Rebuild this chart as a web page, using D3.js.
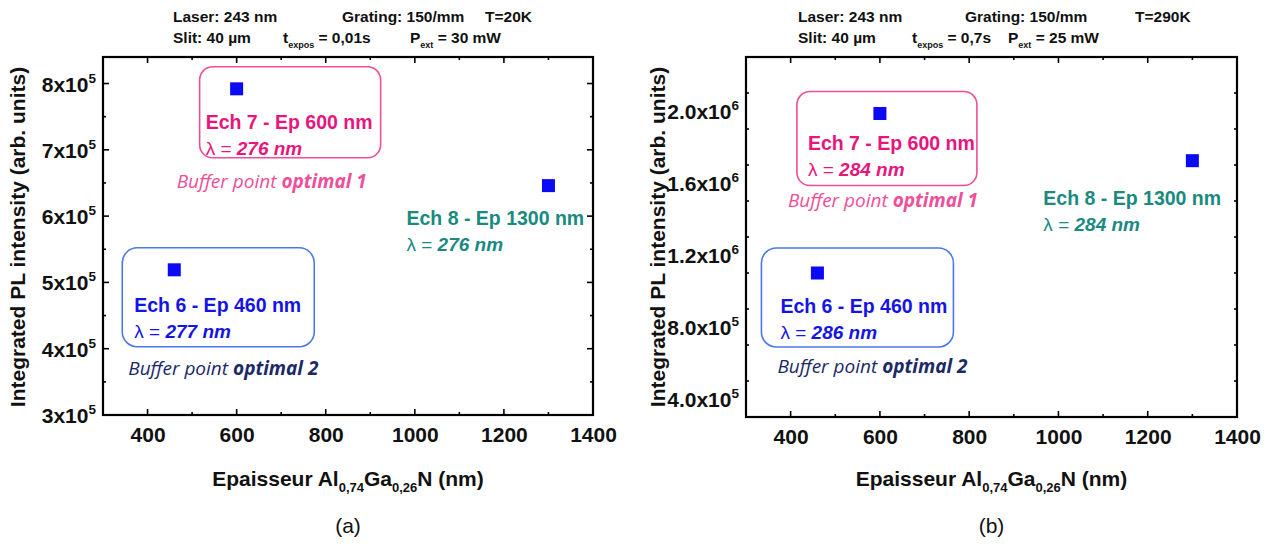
<!DOCTYPE html>
<html><head><meta charset="utf-8">
<script src="https://cdn.jsdelivr.net/npm/d3@7"></script>
<style>body{margin:0;background:#fff}svg{display:block}</style>
</head><body>
<svg id="c" width="1280" height="549"></svg>
<script>
// ---- data ----
const samples = ["Ech 6", "Ech 7", "Ech 8"];
const thickness = [460, 600, 1300];
const intensityA = [5.19e5, 7.92e5, 6.46e5];
const intensityB = [1.10e6, 1.986e6, 1.724e6];
const lambdaA = [277, 276, 276];
const lambdaB = [286, 284, 284];
const xTicks = [400, 600, 800, 1000, 1200, 1400];
const yTicksA = [3e5, 4e5, 5e5, 6e5, 7e5, 8e5];
const yTickLabelsA = [["3x10","5"],["4x10","5"],["5x10","5"],["6x10","5"],["7x10","5"],["8x10","5"]];
const yTicksB = [4e5, 8e5, 1.2e6, 1.6e6, 2.0e6];
const yTickLabelsB = [["4.0x10","5"],["8.0x10","5"],["1.2x10","6"],["1.6x10","6"],["2.0x10","6"]];
const headerA = {t:"T=20K", texp:"= 0,01s", pext:"= 30 mW"};
const headerB = {t:"T=290K", texp:"= 0,7s", pext:"= 25 mW"};

const svg = d3.select("#c");
const BOLD = "'Liberation Sans', Arial, sans-serif";
const CAL = "'Open Sans', 'Noto Sans', sans-serif";
const PINK = "#e8157c", PINK2 = "#ee4f98", BLUE = "#1414e6", NAVY = "#1b2a66", TEAL = "#1a8a80";

function panel(cfg){
  const g = svg.append("g");
  const x = d3.scaleLinear().domain([300,1400]).range([cfg.L, cfg.R]);
  const y = d3.scaleLinear().domain(cfg.ydom).range([cfg.B, cfg.T]);
  const xMinor = d3.range(300, 1401, 100);
  const yMinor = d3.range(cfg.ydom[0], cfg.ydom[1]+1, cfg.minorStep);
  const tk = g.append("g").attr("stroke","#000").attr("stroke-width",1.6);
  xMinor.forEach(v=>{
    const len = xTicks.includes(v) ? 6 : 3;
    tk.append("line").attr("x1",x(v)).attr("x2",x(v)).attr("y1",cfg.B).attr("y2",cfg.B-len);
    tk.append("line").attr("x1",x(v)).attr("x2",x(v)).attr("y1",cfg.T).attr("y2",cfg.T+len);
  });
  yMinor.forEach(v=>{
    const major = cfg.yt.some(t=>Math.abs(t-v)<1);
    const len = major ? 6 : 3;
    tk.append("line").attr("y1",y(v)).attr("y2",y(v)).attr("x1",cfg.L).attr("x2",cfg.L+len);
    tk.append("line").attr("y1",y(v)).attr("y2",y(v)).attr("x1",cfg.R).attr("x2",cfg.R-len);
  });
  g.append("rect").attr("x",cfg.L).attr("y",cfg.T).attr("width",cfg.R-cfg.L).attr("height",cfg.B-cfg.T)
    .attr("fill","none").attr("stroke","#000").attr("stroke-width",2.2);
  const xa = g.append("g").attr("transform",`translate(0,${cfg.B})`)
    .call(d3.axisBottom(x).tickValues(xTicks).tickSize(0).tickPadding(12).tickFormat(d3.format("d")));
  xa.select(".domain").remove();
  xa.selectAll("text").attr("font-family",BOLD).attr("font-weight","bold").attr("font-size",21).attr("fill","#111");
  cfg.yt.forEach((v,i)=>{
    const t = g.append("text").attr("x",cfg.L-7).attr("y",y(v)+8).attr("text-anchor","end")
      .attr("font-family",BOLD).attr("font-weight","bold").attr("font-size",21).attr("fill","#111");
    t.append("tspan").text(cfg.ytl[i][0]);
    t.append("tspan").attr("dy",-9).attr("font-size",13.5).text(cfg.ytl[i][1]);
  });
  const xt = g.append("text").attr("x",(cfg.L+cfg.R)/2).attr("y",486).attr("text-anchor","middle")
    .attr("font-family",BOLD).attr("font-weight","bold").attr("font-size",21).attr("fill","#111");
  xt.append("tspan").text("Epaisseur Al");
  xt.append("tspan").attr("dy",6).attr("font-size",13).text("0,74");
  xt.append("tspan").attr("dy",-6).text("Ga");
  xt.append("tspan").attr("dy",6).attr("font-size",13).text("0,26");
  xt.append("tspan").attr("dy",-6).text("N (nm)");
  g.append("text").attr("transform",`translate(${cfg.ytx},${cfg.ytc}) rotate(-90)`).attr("text-anchor","middle")
    .attr("font-family",BOLD).attr("font-weight","bold").attr("font-size",21).attr("fill","#111")
    .text("Integrated PL intensity (arb. units)");
  g.append("text").attr("x",(cfg.L+cfg.R)/2).attr("y",533).attr("text-anchor","middle")
    .attr("font-family",BOLD).attr("font-size",21).attr("fill","#111").text(cfg.letter);
  const hd = g.append("g").attr("font-family",BOLD).attr("font-weight","bold").attr("font-size",15.5).attr("fill","#111");
  const h0 = cfg.hx;
  hd.append("text").attr("x",h0[0]).attr("y",22).text("Laser: 243 nm");
  hd.append("text").attr("x",h0[1]).attr("y",22).text("Grating: 150/mm");
  hd.append("text").attr("x",h0[2]).attr("y",22).text(cfg.head.t);
  hd.append("text").attr("x",h0[0]).attr("y",43).text("Slit: 40 µm");
  const te = hd.append("text").attr("x",h0[3]).attr("y",43);
  te.append("tspan").text("t");
  te.append("tspan").attr("dy",5).attr("font-size",9).text("expos");
  te.append("tspan").attr("dy",-5).text(" " + cfg.head.texp);
  const pe = hd.append("text").attr("x",h0[4]).attr("y",43);
  pe.append("tspan").text("P");
  pe.append("tspan").attr("dy",5).attr("font-size",9).text("ext");
  pe.append("tspan").attr("dy",-5).text(" " + cfg.head.pext);

  const px = i=>x(thickness[i]), py = i=>y(cfg.vals[i]);
  const an = cfg.ann;
  g.append("rect").attr("x",px(1)+an.p[0]).attr("y",py(1)+an.p[1]).attr("width",an.p[2]).attr("height",an.p[3])
    .attr("rx",13).attr("fill","none").attr("stroke",PINK2).attr("stroke-width",1.6);
  g.append("rect").attr("x",px(0)+an.b[0]).attr("y",py(0)+an.b[1]).attr("width",an.b[2]).attr("height",an.b[3])
    .attr("rx",15).attr("fill","none").attr("stroke","#4a78ea").attr("stroke-width",1.6);
  function label(i, dx, dy, color){
    g.append("text").attr("x",px(i)+dx).attr("y",py(i)+dy).attr("font-family",BOLD).attr("font-weight","bold")
      .attr("font-size",19.5).attr("fill",color).text(`${samples[i]} - Ep ${thickness[i]} nm`);
    const l = g.append("text").attr("x",px(i)+dx).attr("y",py(i)+dy+26).attr("font-family",BOLD).attr("font-weight","bold")
      .attr("font-size",19).attr("fill",color);
    l.append("tspan").attr("font-style","normal").attr("font-weight","normal").text("λ = ");
    l.append("tspan").attr("font-style","italic").text(`${cfg.lam[i]} nm`);
  }
  label(1, an.l7[0], an.l7[1], PINK);
  label(0, an.l6[0], an.l6[1], BLUE);
  label(2, an.l8[0], an.l8[1], TEAL);
  function buffer(i, dx, dy, color, n){
    const t = g.append("text").attr("x",px(i)+dx).attr("y",py(i)+dy).attr("font-family",CAL)
      .attr("font-style","italic").attr("font-size",19).attr("fill",color);
    t.append("tspan").text("Buffer point ");
    t.append("tspan").attr("font-weight","bold").text("optimal " + n);
  }
  buffer(1, an.o1[0], an.o1[1], PINK2, 1);
  buffer(0, an.o2[0], an.o2[1], NAVY, 2);

  g.selectAll("rect.pt").data(thickness).join("rect").attr("class","pt")
    .attr("x",(d)=>x(d)-6.5).attr("y",(d,i)=>y(cfg.vals[i])-6.5).attr("width",13).attr("height",13)
    .attr("fill","#0a0af5");
}

panel({L:103,R:593,T:57,B:415,ydom:[3e5,8.4e5],minorStep:5e4,yt:yTicksA,ytl:yTickLabelsA,vals:intensityA,lam:lambdaA,
  ytx:25,ytc:237,letter:"(a)",head:headerA,hx:[173,342,485,283,410],
  ann:{p:[-37,-22,181,91],b:[-52,-22,192,99],l7:[-31,40],l6:[-40,42],l8:[-142,39],o1:[-60,99],o2:[-46,105]}});
panel({L:746,R:1237,T:57,B:417,ydom:[3e5,2.3e6],minorStep:2e5,yt:yTicksB,ytl:yTickLabelsB,vals:intensityB,lam:lambdaB,
  ytx:665,ytc:237,letter:"(b)",head:headerB,hx:[798,965,1135,912,1008],
  ann:{p:[-83,-22,180,94],b:[-56,-25,192,99],l7:[-72,36],l6:[-37,40],l8:[-149,44],o1:[-92,93],o2:[-40,100]}});
</script>
</body></html>
